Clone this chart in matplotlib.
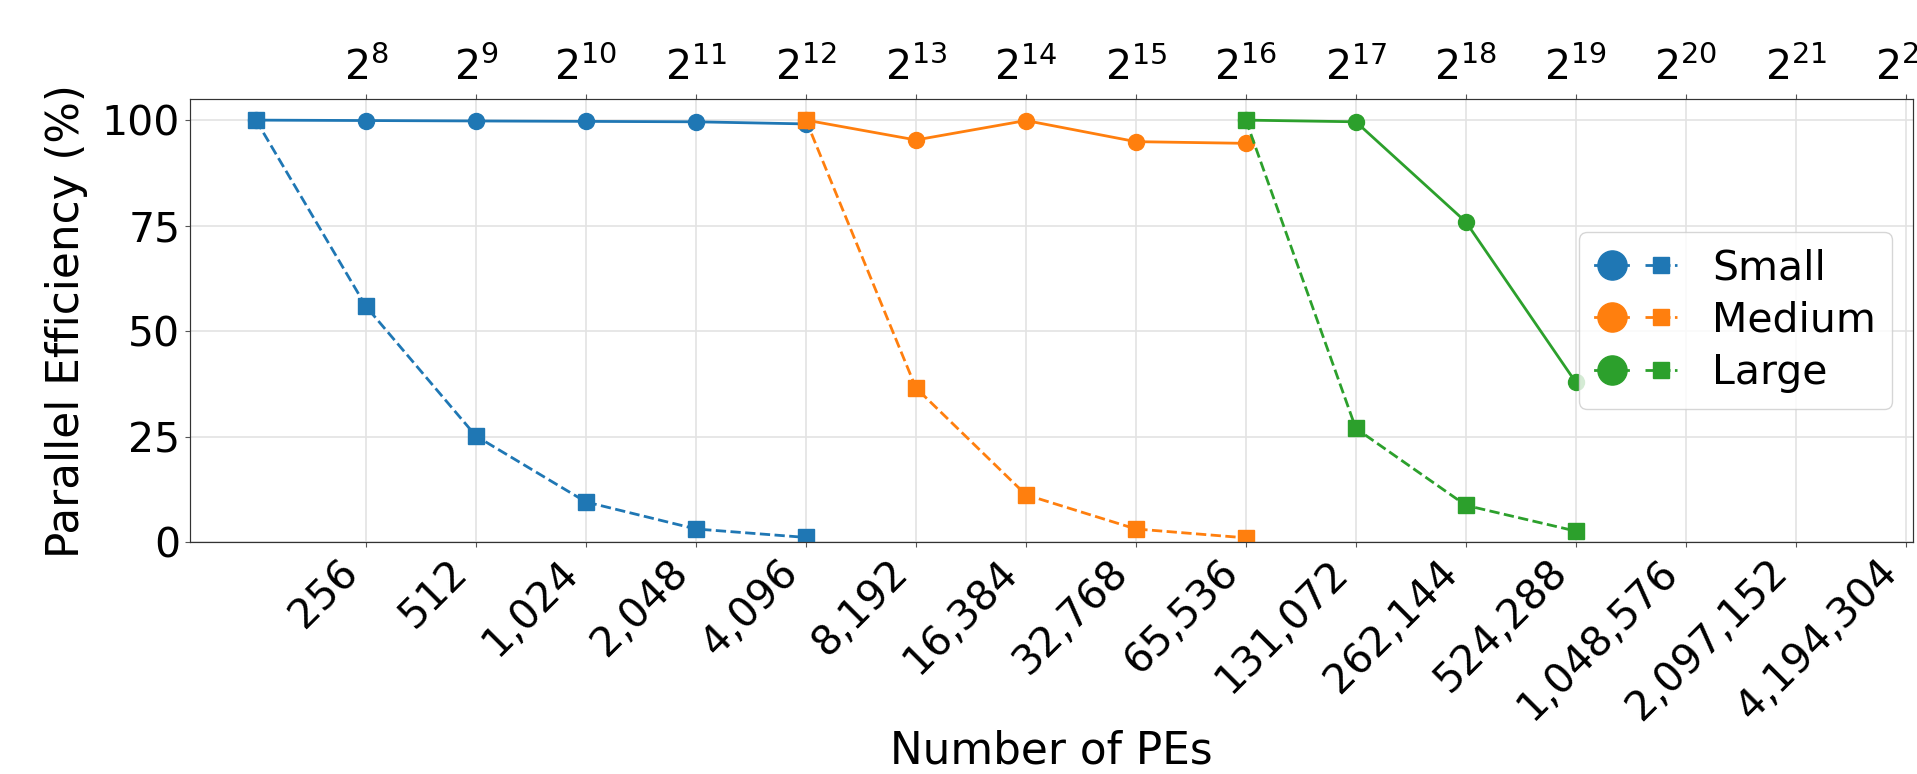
import matplotlib
matplotlib.use("Agg")
import matplotlib.pyplot as plt
from matplotlib.lines import Line2D
from matplotlib.legend_handler import HandlerTuple
from matplotlib.ticker import FixedLocator, FixedFormatter, NullLocator

# ==========================================
# 1. DATA
# ==========================================
small_pes = [128, 256, 512, 1024, 2048, 4096]
small_solid = [100.0, 99.9, 99.8, 99.7, 99.6, 99.1]
small_dashed = [100.0, 55.9, 25.2, 9.6, 3.2, 1.2]

medium_pes = [4096, 8192, 16384, 32768, 65536]
medium_solid = [100.0, 95.3, 99.9, 94.9, 94.5]
medium_dashed = [100.0, 36.6, 11.3, 3.2, 1.1]

large_pes = [65536, 131072, 262144, 524288]
large_solid = [100.0, 99.6, 75.9, 37.9]
large_dashed = [100.0, 27.0, 8.8, 2.7]

tick_exponents = list(range(8, 23))
y_ticks = [0, 25, 50, 75, 100]

series = [
    ("Small", "#1f77b4", small_pes, small_solid, small_dashed),
    ("Medium", "#ff7f0e", medium_pes, medium_solid, medium_dashed),
    ("Large", "#2ca02c", large_pes, large_solid, large_dashed),
]

# ==========================================
# 2. PLOT
# ==========================================
fig = plt.figure(figsize=(19.17, 7.74), dpi=100)
ax = fig.add_axes([0.0991, 0.2991, 0.8988, 0.573])
ax.set_xscale("log", base=2)

handles = []
labels = []
for name, color, pes, solid, dashed in series:
    ax.plot(pes, solid, "-o", color=color, linewidth=2, markersize=11.5)
    ax.plot(pes, dashed, "--s", color=color, linewidth=2, markersize=11.5)
    # legend shows a big circle (solid) next to a square (dashed)
    h_circle = Line2D([], [], color=color, marker="o", linestyle="-",
                      linewidth=2, markersize=21)
    h_square = Line2D([], [], color=color, marker="s", linestyle="--",
                      linewidth=2, markersize=11.5)
    handles.append((h_circle, h_square))
    labels.append(name)

tick_vals = [2 ** e for e in tick_exponents]
ax.set_xlim(2 ** 6.4, 2 ** 22.065)
ax.set_ylim(0, 105)
ax.set_xticks(tick_vals)
ax.set_xticklabels([f"{v:,}" for v in tick_vals], rotation=45, ha="right")
ax.xaxis.set_minor_locator(NullLocator())
ax.set_yticks(y_ticks)
ax.tick_params(axis="both", labelsize=29.5, color="#555555")
ax.grid(True, color="#e3e3e3", linewidth=1.2)
ax.set_axisbelow(True)
for s in ax.spines.values():
    s.set_color("#555555")

ax.set_xlabel("Number of PEs", fontsize=31.5, labelpad=1)
ax.set_ylabel("Parallel Efficiency (%)", fontsize=31.5, labelpad=10)

# top axis with power-of-two labels
ax2 = ax.twiny()
ax2.set_xscale("log", base=2)
ax2.set_xlim(ax.get_xlim())
ax2.xaxis.set_major_locator(FixedLocator(tick_vals))
ax2.xaxis.set_major_formatter(FixedFormatter([f"$2^{{{e}}}$" for e in tick_exponents]))
ax2.xaxis.set_minor_locator(NullLocator())
ax2.tick_params(axis="x", labelsize=29.5, color="#555555")
for s in ax2.spines.values():
    s.set_color("#333333")

ax.legend(handles, labels, handler_map={tuple: HandlerTuple(ndivide=None, pad=0.4)},
          loc="center right", fontsize=29.5,
          handlelength=2.0, handletextpad=0.85, labelspacing=0.3)

fig.savefig("out.png", dpi=100)
